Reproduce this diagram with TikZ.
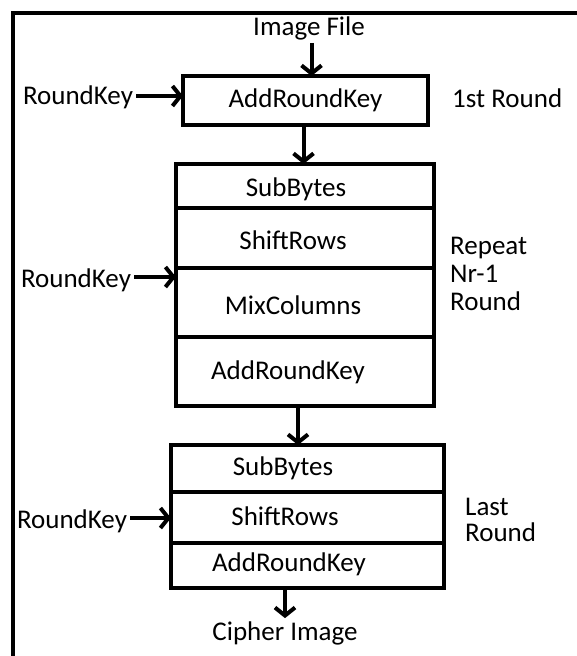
\documentclass[tikz,border=0pt]{standalone}
\usepackage{fontspec}
\setmainfont{Carlito}
\usetikzlibrary{arrows.meta,positioning}

\tikzset{
  stage/.style={draw, line width=4pt, inner sep=0pt, outer sep=0pt},
  lbl/.style={inner sep=3pt, font=\fontsize{27}{28}\selectfont},
  arr/.style={line width=4pt, -{Straight Barb[length=8pt, width=20pt]}},
}

\begin{document}
\begin{tikzpicture}[x=1pt, y=-1pt]
  \def\Xl{13};
  \def\Xa{305.5};
  \def\Xb{305};
  \def\Xc{307.5};
  \def\Wa{245pt};
  \def\Wb{258pt};
  \def\Wc{273pt};

  \useasboundingbox (0,0) rectangle (577,656);

  % frame
  \draw[line width=4pt, line join=miter] (\Xl, 656) -- (\Xl, 13) -- (577, 13);

  % first round
  \node[stage, lbl, minimum width=\Wa, minimum height=49pt] (round1) at (\Xa, 100.5) {AddRoundKey};

  % middle rounds
  \node[stage, minimum width=\Wb, minimum height=44pt] (sub2) at (\Xb, 186) {};
  \node[stage, minimum width=\Wb, minimum height=60pt, below=0pt of sub2] (shift2) {};
  \node[stage, minimum width=\Wb, minimum height=69pt, below=0pt of shift2] (mix2) {};
  \node[stage, minimum width=\Wb, minimum height=69pt, below=0pt of mix2] (add2) {};

  % last round
  \node[stage, minimum width=\Wc, minimum height=47pt] (sub3) at (\Xc, 468.5) {};
  \node[stage, minimum width=\Wc, minimum height=51pt, below=0pt of sub3] (shift3) {};
  \node[stage, minimum width=\Wc, minimum height=45pt, below=0pt of shift3] (add3) {};

  % labels
  \node[lbl] (imgfile) at (309, 28) {Image File};
  \node[lbl] (rk1) at (78, 97) {RoundKey};
  \node[lbl, anchor=west] (first) at (449, 98) {1st Round};
  \node[lbl] (sub2t) at (296, 189) {SubBytes};
  \node[lbl] (shift2t) at (293, 240) {ShiftRows};
  \node[lbl] (mix2t) at (293, 305) {MixColumns};
  \node[lbl] (add2t) at (288, 372) {AddRoundKey};
  \node[lbl] (rk2) at (76, 280) {RoundKey};
  \node[lbl, anchor=west, align=left] (repeat) at (447, 274) {Repeat\\Nr-1\\Round};
  \node[lbl] (sub3t) at (283, 468) {SubBytes};
  \node[lbl] (shift3t) at (285, 516) {ShiftRows};
  \node[lbl] (add3t) at (289, 564) {AddRoundKey};
  \node[lbl] (rk3) at (72, 521) {RoundKey};
  \node[lbl, anchor=west, align=left] (last) at (462, 520) {Last\\[-2pt]Round};
  \node[lbl] (cipher) at (285, 633) {Cipher Image};

  % arrows
  \draw[arr] (imgfile.south -| round1.north) ++(6pt, 0) coordinate (in1) -- (in1 |- round1.north);
  \draw[arr] ([yshift=1pt]rk1.east) -- ([yshift=1pt]rk1.east -| round1.west);
  \draw[arr] ([xshift=-2pt]round1.south) -- ([xshift=-2pt]round1.south |- sub2.north);
  \draw[arr] ([yshift=3pt]rk2.east) -- ([yshift=3pt]rk2.east -| mix2.west);
  \draw[arr] ([xshift=-7pt]add2.south) -- ([xshift=-7pt]add2.south |- sub3.north);
  \draw[arr] ([yshift=3pt]rk3.east) -- ([yshift=3pt]rk3.east -| shift3.west);
  \draw[arr] (add3.south -| cipher.north) -- (cipher.north);
\end{tikzpicture}
\end{document}
